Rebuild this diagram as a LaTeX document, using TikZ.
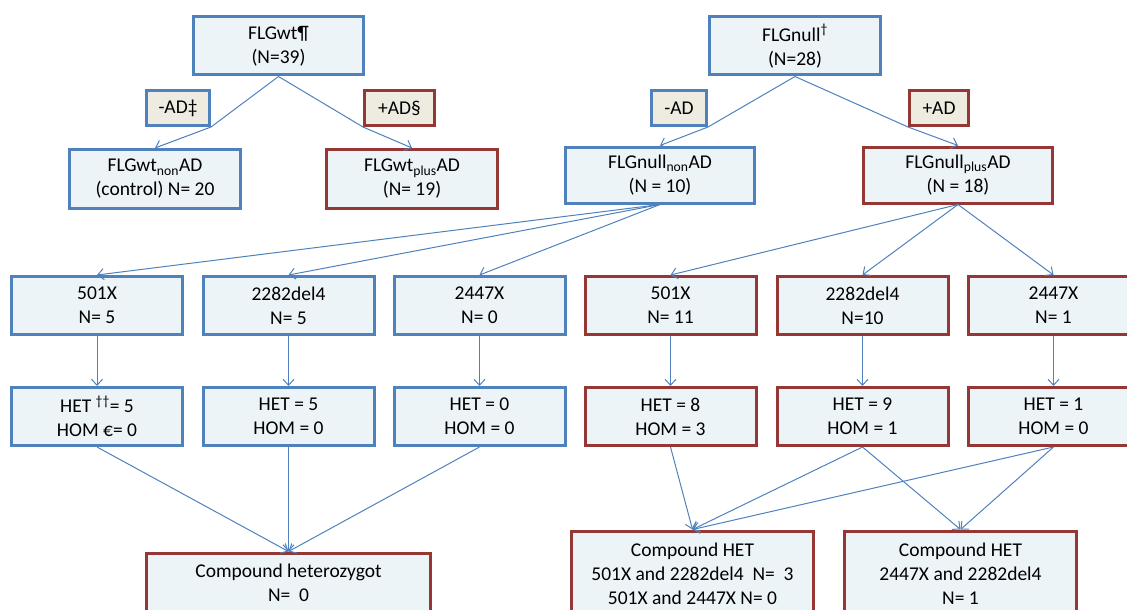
\documentclass[tikz,border=0pt]{standalone}
\usepackage{fontspec}
\setmainfont{Carlito}
\usepackage{tikz}
\usetikzlibrary{arrows.meta, positioning}

\definecolor{accblue}{RGB}{79,129,189}
\definecolor{accred}{RGB}{149,55,53}
\definecolor{boxfill}{RGB}{236,244,248}
\definecolor{adfill}{RGB}{238,236,225}

\begin{document}
\begin{tikzpicture}[x=1pt,y=-1pt,>={Straight Barb[length=6pt,width=11pt]}]
\tikzset{box/.style={draw, line width=3pt, fill=boxfill, align=center, inner sep=2pt, minimum height=58pt, font=\fontsize{19.5}{24}\selectfont},
  bluebox/.style={box, draw=accblue},
  redbox/.style={box, draw=accred},
  adbox/.style={box, fill=adfill, minimum height=35pt},
  link/.style={draw=accblue, line width=1pt}}
\useasboundingbox (0,0) rectangle (1127,610);
\clip (0,0) rectangle (1127,610);
% The top groups
\node (wt) at (278.5,46) [bluebox, minimum width=170pt] {FLGwt¶\\(N=39)};
\node (null) at (795,46) [bluebox, minimum width=171pt] {FLGnull\textsuperscript{†}\\(N=28)};
\node (wtminus) at (178,108) [adbox, draw=accblue, minimum width=63pt] {-AD‡};
\node (wtplab) at (399.5,108) [adbox, draw=accred, minimum width=70pt] {+AD§};
\node (nullminus) at (679,108) [adbox, draw=accblue, minimum width=55pt] {-AD};
\node (nullplab) at (939,108) [adbox, draw=accred, minimum width=59pt] {+AD};
\node (wtnon) at (155,179) [bluebox, minimum width=171pt, minimum height=59pt] {FLGwt\textsubscript{non}AD\\(control) N= 20};
\node (wtpl) at (412,179) [redbox, minimum width=171pt, minimum height=59pt] {FLGwt\textsubscript{plus}AD\\(N= 19)};
\node (nullnon) at (660,175) [bluebox, minimum width=189pt, minimum height=56pt] {FLGnull\textsubscript{non}AD\\(N = 10)};
\node (nullpl) at (958,175) [redbox, minimum width=189pt, minimum height=56pt] {FLGnull\textsubscript{plus}AD\\(N = 18)};
% Mutations
\node (mA) at (97,305.5) [bluebox, minimum width=171pt] {501X\\N= 5};
\node (mB) at (288.5,305.5) [bluebox, minimum width=171pt] {2282del4\\N= 5};
\node (mC) at (479.5,305.5) [bluebox, minimum width=171pt] {2447X\\N= 0};
\node (pA) at (670.5,305.5) [redbox, minimum width=171pt] {501X\\N= 11};
\node (pB) at (862.5,305.5) [redbox, minimum width=171pt] {2282del4\\N=10};
\node (pC) at (1053.5,305.5) [redbox, minimum width=171pt] {2447X\\N= 1};
% Zygosity
\node (hA) at (97,416.5) [bluebox, minimum width=171pt] {HET \textsuperscript{††}= 5\\HOM €= 0};
\node (hB) at (288.5,416.5) [bluebox, minimum width=171pt] {HET = 5\\HOM = 0};
\node (hC) at (479.5,416.5) [bluebox, minimum width=171pt] {HET = 0\\HOM = 0};
\node (qA) at (670.5,416.5) [redbox, minimum width=171pt] {HET = 8\\HOM = 3};
\node (qB) at (862.5,416.5) [redbox, minimum width=171pt] {HET = 9\\HOM = 1};
\node (qC) at (1053.5,416.5) [redbox, minimum width=171pt] {HET = 1\\HOM = 0};
% Compound
\node (comphet) at (288.5,583) [redbox, minimum width=284pt, minimum height=60pt] {Compound heterozygot\\N=\ \ 0};
\node (compA) at (692.5,574) [redbox, minimum width=242pt, minimum height=86pt] {Compound HET\\501X and 2282del4 \ N=\ \ 3\\501X and 2447X N= 0};
\node (compB) at (960.5,574) [redbox, minimum width=232pt, minimum height=86pt] {Compound HET\\2447X and 2282del4\\N= 1};
% Links
\draw [link, ->] (wt.south) -- (wtminus.south east) -- (wtnon.north);
\draw [link, ->] (wt.south) -- (wtplab.south west) -- (wtpl.north);
\draw [link, ->] (null.south) -- (nullminus.south east) -- (nullnon.north);
\draw [link, ->] (null.south) -- (nullplab.south west) -- (nullpl.north);
\foreach \m in {mA, mB, mC} \draw [link, ->] (nullnon.south) -- (\m.north);
\foreach \m in {pA, pB, pC} \draw [link, ->] (nullpl.south) -- (\m.north);
\draw [link, ->] (mA) -- (hA);
\draw [link, ->] (mB) -- (hB);
\draw [link, ->] (mC) -- (hC);
\draw [link, ->] (pA) -- (qA);
\draw [link, ->] (pB) -- (qB);
\draw [link, ->] (pC) -- (qC);
\foreach \h in {hA, hB, hC} \draw [link, ->] (\h.south) -- (comphet.north);
\draw [link, ->] (qA.south) -- (compA.north);
\draw [link, ->] (qB.south) -- (compA.north);
\draw [link, ->] (qC.south) -- (compA.north);
\draw [link, ->] (qB.south) -- (compB.north);
\draw [link, ->] (qC.south) -- (compB.north);
\end{tikzpicture}
\end{document}
